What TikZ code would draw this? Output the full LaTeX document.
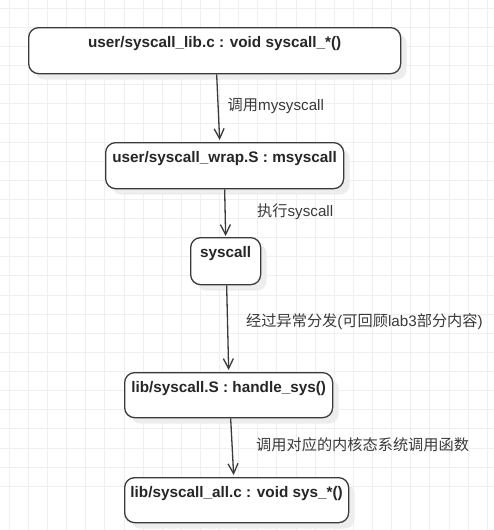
\documentclass[tikz,border=0pt]{standalone}
\usepackage{fontspec}
\setmainfont{Liberation Sans}
\newfontfamily\cjk{Noto Sans CJK SC}
\usetikzlibrary{arrows.meta,positioning,shadows}
\definecolor{boxline}{HTML}{3A3A3A}
\definecolor{gridline}{HTML}{EFEFEF}
\definecolor{labeltext}{HTML}{3A3A3A}

\begin{document}
\begin{tikzpicture}[x=1pt, y=-1pt,
    callbox/.style={draw=boxline, line width=1.3pt, rounded corners=10pt, fill=white,
        inner sep=0pt, text height=20pt, anchor=north west,
        font=\fontsize{15.3}{18}\selectfont\bfseries, text=black!85,
        drop shadow={shadow xshift=6pt, shadow yshift=-6pt, fill=black!7, opacity=1}},
    steplabel/.style={anchor=base west, inner sep=0pt, text=labeltext,
        font=\fontsize{15.2}{18}\selectfont},
    flow/.style={draw=boxline, line width=1.3pt, -{Straight Barb[length=10pt,width=10pt]}}]
    \useasboundingbox[fill=white] (0,0) rectangle (494,530);
    \foreach \i in {0,...,25} {
        \draw[gridline, line width=1pt] (9.3+19.12*\i,0) -- (9.3+19.12*\i,530);
        \draw[gridline, line width=1pt] (0,8.3+19.12*\i) -- (494,8.3+19.12*\i);
    }

    \node[callbox, minimum width=372pt, text depth=26pt] (lib) at (28,27) {user/syscall\_lib.c : void syscall\_*()};
    \node[callbox, minimum width=238pt, text depth=26pt] (wrap) at (105,142) {user/syscall\_wrap.S : msyscall};
    \node[callbox, minimum width=70pt, text depth=27pt] (sys) at (190,237) {syscall};
    \node[callbox, minimum width=208pt, text depth=25pt] (handle) at (124,372) {lib/syscall.S : handle\_sys()};
    \node[callbox, minimum width=224pt, text depth=25pt] (all) at (124,477) {lib/syscall\_all.c : void sys\_*()};

    \draw[flow] ([xshift=2pt]lib.south) -- ([xshift=-5pt,yshift=2pt]wrap.north);
    \draw[flow] (wrap.south) -- ([yshift=1pt]sys.north);
    \draw[flow] ([xshift=1pt]sys.south) -- ([yshift=2pt]handle.north);
    \draw[flow] ([xshift=2pt]handle.south) -- ([xshift=-3pt,yshift=2pt]all.north);

    \node[steplabel] (call) at (227.5,110) {{\cjk 调用}mysyscall};
    \node[steplabel] (exec) at (257,216) {{\cjk 执行}syscall};
    \node[steplabel] (trap) at (246,326) {{\cjk 经过异常分发}({\cjk 可回顾}lab3{\cjk 部分内容})};
    \node[steplabel] (dispatch) at (256,450) {\cjk 调用对应的内核态系统调用函数};
\end{tikzpicture}
\end{document}
